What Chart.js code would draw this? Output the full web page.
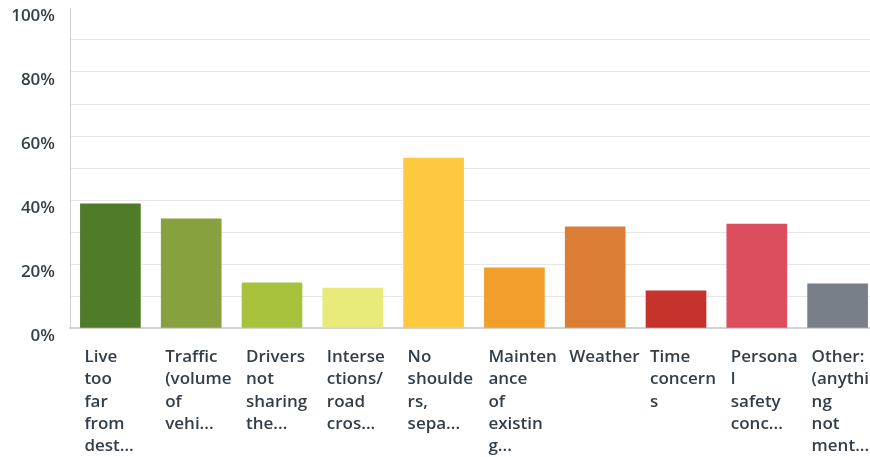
<!DOCTYPE html>
<html>
<head>
<meta charset="utf-8">
<script src="https://cdn.jsdelivr.net/npm/chart.js@4/dist/chart.umd.min.js"></script>
<style>
  html, body { margin: 0; padding: 0; background: #fff; overflow: hidden; }
  .chart-container { position: relative; width: 878px; height: 457px; }
</style>
</head>
<body>
<div class="chart-container">
  <canvas id="barChart"></canvas>
</div>
<script>
// answer choices, wrapped the way the survey tool cut them
const categories = [
    ['Live', 'too', 'far', 'from', 'dest...'],
    ['Traffic', '(volume', 'of', 'vehi...'],
    ['Drivers', 'not', 'sharing', 'the...'],
    ['Interse', 'ctions/', 'road', 'cros...'],
    ['No', 'shoulde', 'rs,', 'sepa...'],
    ['Mainten', 'ance', 'of', 'existin', 'g...'],
    ['Weather'],
    ['Time', 'concern', 's'],
    ['Persona', 'l', 'safety', 'conc...'],
    ['Other:', '(anythi', 'ng', 'not', 'ment...']
];
const responses = [38.8, 34.1, 14.1, 12.5, 53.1, 18.8, 31.6, 11.6, 32.5, 13.8];
const barColors = [
    '#507b29',  // dark green
    '#88a13f',  // olive
    '#a9c23d',  // lime
    '#e8ea79',  // pale yellow
    '#fdca3f',  // yellow
    '#f19e2d',  // orange
    '#dc7d35',  // dark orange
    '#c5332c',  // red
    '#dc4d5d',  // pink red
    '#797f88'   // grey
];
const yTicks = [0, 20, 40, 60, 80, 100];

document.addEventListener('DOMContentLoaded', function() {
    const textColor = '#333e48';

    const ctx = document.getElementById('barChart').getContext('2d');
    new Chart(ctx, {
        type: 'bar',
        data: {
            labels: categories,
            datasets: [{
                data: responses,
                backgroundColor: barColors,
                borderWidth: 0,
                barThickness: 60
            }]
        },
        options: {
            responsive: true,
            maintainAspectRatio: false,
            animation: false,
            layout: { padding: 0 },
            plugins: {
                legend: { display: false },
                tooltip: { enabled: false }
            },
            scales: {
                x: {
                    grid: { display: false, drawTicks: false },
                    border: { display: true, color: '#d3d3d3', width: 2 },
                    ticks: {
                        color: textColor,
                        font: { family: 'Open Sans', size: 17, weight: '600', lineHeight: 1.31 },
                        align: 'start',
                        labelOffset: -26,
                        padding: 18,
                        autoSkip: false,
                        maxRotation: 0,
                        minRotation: 0
                    },
                    afterFit: function(scale) {
                        scale.paddingLeft = 0;
                        scale.paddingRight = 0;
                        scale.height = 129;
                    }
                },
                y: {
                    min: 0,
                    max: 100,
                    ticks: {
                        stepSize: 10,
                        color: textColor,
                        font: { family: 'Open Sans', size: 17, weight: '600' },
                        padding: 15,
                        labelOffset: 8,
                        callback: function(value) {
                            return yTicks.includes(value) ? value + '%' : '';
                        }
                    },
                    grid: {
                        drawTicks: false,
                        lineWidth: 1,
                        color: function(c) {
                            return c.tick && c.tick.value === 100 ? 'rgba(0,0,0,0)' : '#e6e6e6';
                        }
                    },
                    border: { display: true, color: '#cfcfcf', width: 1 },
                    afterFit: function(scale) {
                        scale.width = 70;
                        scale.paddingTop = 8;
                    }
                }
            }
        }
    });
});
</script>
</body>
</html>
